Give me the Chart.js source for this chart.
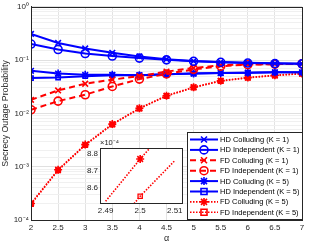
<!DOCTYPE html>
<html>
<head>
<meta charset="utf-8">
<script src="https://cdn.jsdelivr.net/npm/chart.js@4.4.1/dist/chart.umd.min.js"></script>
<style>
  html, body { margin: 0; padding: 0; background: #fff; }
  #wrap { position: relative; width: 309px; height: 244px; }
  #main { position: absolute; left: 0; top: 0; }
  #inset { position: absolute; left: 80px; top: 138px; }
</style>
</head>
<body>
<div id="wrap">
  <canvas id="main" width="309" height="244"></canvas>
  <canvas id="inset" width="107" height="82"></canvas>
</div>
<script>
// values
const alpha = [2, 2.5, 3, 3.5, 4, 4.5, 5, 5.5, 6, 6.5, 7];
const hdCollK1 = [0.31, 0.21, 0.165, 0.137, 0.117, 0.104, 0.096, 0.092, 0.089, 0.087, 0.085];
const hdIndK1 = [0.20, 0.158, 0.133, 0.119, 0.109, 0.101, 0.095, 0.091, 0.088, 0.086, 0.085];
const fdCollK1 = [0.018, 0.027, 0.036, 0.043, 0.050, 0.061, 0.071, 0.080, 0.083, 0.084, 0.085];
const fdIndK1 = [0.0117, 0.017, 0.0224, 0.032, 0.044, 0.055, 0.067, 0.077, 0.082, 0.084, 0.085];
const hdCollK5 = [0.063, 0.056, 0.053, 0.053, 0.052, 0.054, 0.056, 0.057, 0.058, 0.059, 0.059];
const hdIndK5 = [0.046, 0.047, 0.050, 0.052, 0.052, 0.054, 0.056, 0.057, 0.058, 0.059, 0.059];
const fdCollK5 = [0.000204, 0.000877, 0.0026, 0.0063, 0.0125, 0.0215, 0.031, 0.041, 0.047, 0.052, 0.056];
const fdIndK5 = [0.000199, 0.000855, 0.00254, 0.0062, 0.0123, 0.0212, 0.0306, 0.0405, 0.0465, 0.0515, 0.0555];

// zoomed inset around alpha = 2.5 (values in units of 1e-4)
const insetAlpha = [2.49, 2.5, 2.51];
const insetColl = [8.52, 8.77, 9.0];
const insetInd = [8.30, 8.55, 8.76];
const insetXTicks = [2.49, 2.5, 2.51];
const insetYTicks = [8.6, 8.7, 8.8];

const seriesNames = [
    'HD Colluding (K = 1)', 'HD Independent (K = 1)',
    'FD Colluding (K = 1)', 'FD Independent (K = 1)',
    'HD Colluding (K = 5)', 'HD Independent (K = 5)',
    'FD Colluding (K = 5)', 'FD Independent (K = 5)'
];

const BLUE = '#0000ff';
const RED = '#ff0000';
const TXT = '#262626';
const FONT = '"Liberation Sans", Arial, sans-serif';
const SUP = { '0': '⁰', '1': '¹', '2': '²', '3': '³', '4': '⁴', '-': '⁻' };

function toPoints(xs, ys) {
    return xs.map((x, i) => ({ x: x, y: ys[i] }));
}

function makeSet(label, ys, color, style, dash, width) {
    return {
        label: label,
        data: toPoints(alpha, ys),
        borderColor: color,
        backgroundColor: 'rgba(0,0,0,0)',
        borderWidth: width,
        borderDash: dash,
        pointStyle: style,
        pointRadius: style === 'rect' ? 3 : 4,
        pointBorderWidth: 1.6,
        pointBorderColor: color,
        pointBackgroundColor: style === 'star' ? color : 'rgba(0,0,0,0)',
        tension: 0
    };
}

const mainSets = [
    makeSet(seriesNames[0], hdCollK1, BLUE, 'crossRot', [], 2),
    makeSet(seriesNames[1], hdIndK1, BLUE, 'circle', [], 2),
    makeSet(seriesNames[2], fdCollK1, RED, 'crossRot', [6, 4], 2),
    makeSet(seriesNames[3], fdIndK1, RED, 'circle', [6, 4], 2),
    makeSet(seriesNames[4], hdCollK5, BLUE, 'star', [], 2),
    makeSet(seriesNames[5], hdIndK5, BLUE, 'rect', [], 2),
    makeSet(seriesNames[6], fdCollK5, RED, 'star', [1.5, 1.5], 1.6),
    makeSet(seriesNames[7], fdIndK5, RED, 'rect', [1.5, 1.5], 1.6)
];

// little marker painter for the legend
function drawMarker(ctx, style, x, y, r) {
    ctx.beginPath();
    if (style === 'circle') {
        ctx.arc(x, y, r, 0, Math.PI * 2);
    } else if (style === 'rect') {
        ctx.rect(x - r * 0.75, y - r * 0.75, r * 1.5, r * 1.5);
    } else {
        const d = r * 0.75;
        ctx.moveTo(x - d, y - d); ctx.lineTo(x + d, y + d);
        ctx.moveTo(x - d, y + d); ctx.lineTo(x + d, y - d);
        if (style === 'star') {
            ctx.moveTo(x - r, y); ctx.lineTo(x + r, y);
            ctx.moveTo(x, y - r); ctx.lineTo(x, y + r);
        }
    }
    ctx.stroke();
}

const boxAndLegend = {
    id: 'boxAndLegend',
    afterDraw(chart) {
        const ctx = chart.ctx;
        const a = chart.chartArea;
        ctx.save();
        ctx.strokeStyle = TXT;
        ctx.lineWidth = 1;
        ctx.strokeRect(Math.round(a.left) + 0.5, Math.round(a.top) + 0.5,
            Math.round(a.right - a.left), Math.round(a.bottom - a.top));

        // legend box
        const lx = 187, ly = 132, lw = 115, lh = 87;
        ctx.fillStyle = '#fff';
        ctx.fillRect(lx, ly, lw, lh);
        ctx.strokeStyle = TXT;
        ctx.lineWidth = 1;
        ctx.strokeRect(lx + 0.5, ly + 0.5, lw, lh);

        ctx.font = '7.5px ' + FONT;
        ctx.textBaseline = 'middle';
        chart.data.datasets.forEach((ds, i) => {
            const y = 139.5 + i * 10.4;
            ctx.strokeStyle = ds.borderColor;
            ctx.lineWidth = ds.borderWidth;
            ctx.setLineDash(ds.borderDash);
            ctx.beginPath();
            ctx.moveTo(190, y);
            ctx.lineTo(218, y);
            ctx.stroke();
            ctx.setLineDash([]);
            ctx.lineWidth = 1.6;
            drawMarker(ctx, ds.pointStyle, 204, y, 4);
            ctx.fillStyle = '#000';
            ctx.fillText(ds.label, 220, y + 0.5);
        });
        ctx.restore();
    }
};

function isDecade(v) {
    const e = Math.log10(v);
    return Math.abs(e - Math.round(e)) < 1e-6;
}

new Chart(document.getElementById('main').getContext('2d'), {
    type: 'line',
    data: { datasets: mainSets },
    options: {
        responsive: false,
        animation: false,
        devicePixelRatio: 1,
        layout: { padding: { top: 5, right: 7, left: 0, bottom: 0 } },
        plugins: { legend: { display: false }, tooltip: { enabled: false } },
        scales: {
            x: {
                type: 'linear',
                min: 2,
                max: 7,
                afterFit: s => { s.height = 24; },
                border: { color: TXT },
                grid: { color: '#e3e3e3', drawTicks: false },
                ticks: {
                    stepSize: 0.5,
                    padding: 3,
                    color: TXT,
                    font: { size: 8, family: FONT },
                    callback: v => String(v)
                },
                title: {
                    display: true,
                    text: 'α',
                    color: TXT,
                    padding: 0,
                    font: { size: 9, family: FONT }
                }
            },
            y: {
                type: 'logarithmic',
                min: 1e-4,
                max: 1,
                afterFit: s => { s.width = 31; },
                border: { color: TXT },
                grid: {
                    drawTicks: false,
                    color: ctx => isDecade(ctx.tick.value) ? '#e0e0e0' : '#f0f0f0'
                },
                ticks: {
                    autoSkip: false,
                    padding: 2,
                    color: TXT,
                    font: { size: 8, family: FONT },
                    callback: v => {
                        if (!isDecade(v)) return '';
                        const e = String(Math.round(Math.log10(v)));
                        return '10' + e.split('').map(c => SUP[c]).join('');
                    }
                },
                title: {
                    display: true,
                    text: 'Secrecy Outage Probability',
                    color: TXT,
                    padding: 0,
                    font: { size: 8.8, family: FONT }
                }
            }
        }
    },
    plugins: [boxAndLegend]
});

// inset axes
const insetPaint = {
    id: 'insetPaint',
    beforeDraw(chart) {
        const a = chart.chartArea;
        chart.ctx.save();
        chart.ctx.fillStyle = '#fff';
        chart.ctx.fillRect(a.left, a.top, a.right - a.left, a.bottom - a.top);
        chart.ctx.restore();
    },
    afterDraw(chart) {
        const ctx = chart.ctx;
        const a = chart.chartArea;
        ctx.save();
        ctx.strokeStyle = TXT;
        ctx.lineWidth = 1;
        ctx.strokeRect(Math.round(a.left) + 0.5, Math.round(a.top) + 0.5,
            Math.round(a.right - a.left), Math.round(a.bottom - a.top));
        ctx.fillStyle = TXT;
        ctx.font = '7.5px ' + FONT;
        ctx.textBaseline = 'middle';
        ctx.fillText('×10⁻⁴', a.left, 5);
        ctx.restore();
    }
};

new Chart(document.getElementById('inset').getContext('2d'), {
    type: 'line',
    data: {
        datasets: [
            {
                data: toPoints(insetAlpha, insetColl),
                borderColor: RED,
                borderWidth: 1.6,
                borderDash: [1.5, 1.5],
                pointStyle: 'star',
                pointRadius: [0, 4, 0],
                pointBorderWidth: 1.6,
                pointBorderColor: RED,
                pointBackgroundColor: RED
            },
            {
                data: toPoints(insetAlpha, insetInd),
                borderColor: RED,
                borderWidth: 1.6,
                borderDash: [1.5, 1.5],
                pointStyle: 'rect',
                pointRadius: [0, 3, 0],
                pointBorderWidth: 1.3,
                pointBorderColor: RED,
                pointBackgroundColor: 'rgba(0,0,0,0)'
            }
        ]
    },
    options: {
        responsive: false,
        animation: false,
        devicePixelRatio: 1,
        layout: { padding: { top: 10, right: 5, left: 0, bottom: 0 } },
        plugins: { legend: { display: false }, tooltip: { enabled: false } },
        scales: {
            x: {
                type: 'linear',
                min: 2.48838,
                max: 2.5121,
                afterFit: s => { s.height = 17; },
                afterBuildTicks: s => { s.ticks = insetXTicks.map(v => ({ value: v })); },
                border: { color: TXT },
                grid: { display: false, drawTicks: false },
                ticks: {
                    padding: 3,
                    color: TXT,
                    font: { size: 8, family: FONT },
                    callback: v => String(+v.toFixed(2))
                }
            },
            y: {
                type: 'linear',
                min: 8.51,
                max: 8.835,
                afterFit: s => { s.width = 20; },
                afterBuildTicks: s => { s.ticks = insetYTicks.map(v => ({ value: v })); },
                border: { color: TXT },
                grid: { display: false, drawTicks: false },
                ticks: {
                    padding: 2,
                    color: TXT,
                    font: { size: 8, family: FONT },
                    callback: v => v.toFixed(1)
                }
            }
        }
    },
    plugins: [insetPaint]
});
</script>
</body>
</html>
